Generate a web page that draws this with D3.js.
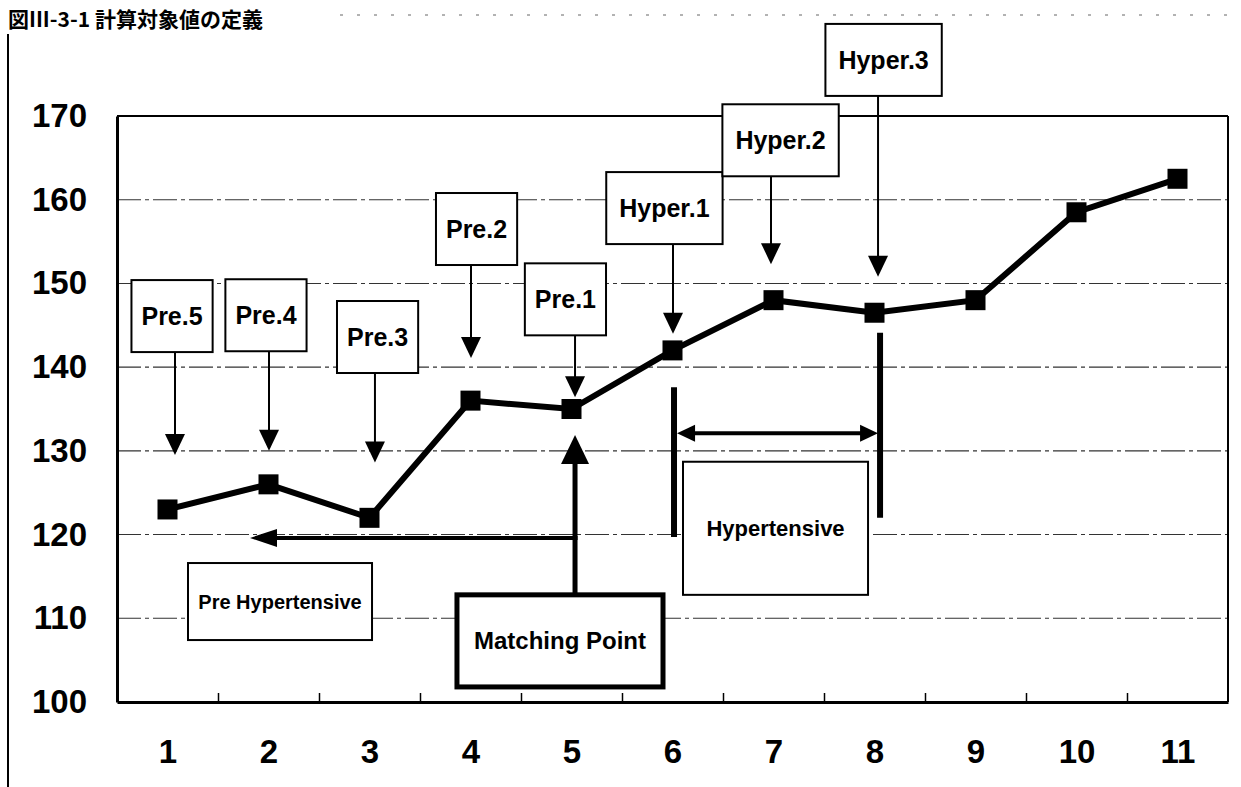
<!DOCTYPE html>
<html>
<head>
<meta charset="utf-8">
<script src="https://cdn.jsdelivr.net/npm/d3@7/dist/d3.min.js"></script>
<style>
  body { margin: 0; background: #fff; }
  svg { display: block; font-family: "Liberation Sans", Arial, sans-serif; }
</style>
</head>
<body>
<script>
// chart data
var categories = [1, 2, 3, 4, 5, 6, 7, 8, 9, 10, 11];
var values = [123, 126, 122, 136, 135, 142, 148, 146.5, 148, 158.5, 162.5];
var yTicks = [100, 110, 120, 130, 140, 150, 160, 170];
var title = "図III-3-1 計算対象値の定義";

// callouts (x in category units, y in value units)
var calloutLabels = ["Pre.5", "Pre.4", "Pre.3", "Pre.2", "Pre.1", "Hyper.1", "Hyper.2", "Hyper.3"];
var calloutArrowX = [1.074, 2.005, 3.054, 4.005, 5.035, 6.005, 6.975, 8.035];
var calloutBoxX = [1.045, 1.975, 3.08, 4.06, 4.94, 5.92, 7.07, 8.09];
var calloutBoxTop = [150.4, 150.5, 147.9, 160.8, 152.4, 163.3, 171.4, 181.0];
var calloutTip = [129.5, 130.0, 128.6, 141.1, 136.4, 144.0, 152.3, 150.8];

// matching point
var matchLabel = "Matching Point";
var matchBoxX = [3.866, 5.906];
var matchBoxY = [112.8, 101.8];
var matchArrowX = 5.035;
var matchArrowTip = 131.9;

// pre hypertensive range
var preLabel = "Pre Hypertensive";
var preArrowY = 119.6;
var preArrowX = [5.035, 1.817];
var preBoxX = [1.203, 3.025];
var preBoxY = [116.6, 107.4];

// hypertensive range
var hyperLabel = "Hypertensive";
var hyperBarX = [6.015, 8.055];
var hyperBarTop = [137.6, 144.1];
var hyperBarBottom = [119.7, 122.0];
var hyperArrowY = 132.1;
var hyperArrowX = [6.045, 8.035];
var hyperBoxX = [6.104, 7.936];
var hyperBoxY = [128.7, 112.8];

var W = 1241, H = 787;
var plot = { left: 117, right: 1228, top: 116, bottom: 702 };

var x = d3.scaleLinear().domain([0.5, 11.5]).range([plot.left, plot.right]);
var y = d3.scaleLinear().domain([100, 170]).range([plot.bottom, plot.top]);

var svg = d3.select("body").append("svg")
  .attr("width", W)
  .attr("height", H);

// title
svg.append("text")
  .attr("x", 8)
  .attr("y", 27)
  .attr("font-family", "'Noto Sans CJK JP', sans-serif")
  .attr("font-weight", "bold")
  .attr("font-size", 21)
  .text(title);

// outer frame
svg.append("line")
  .attr("x1", 8).attr("x2", 8).attr("y1", 34).attr("y2", H)
  .attr("stroke", "#000").attr("stroke-width", 2);
svg.append("line")
  .attr("x1", 340).attr("x2", W).attr("y1", 15).attr("y2", 15)
  .attr("stroke", "#666").attr("stroke-width", 1)
  .attr("stroke-dasharray", "3,14");

// gridlines
svg.append("g")
  .selectAll("line")
  .data(yTicks.filter(function (d) { return d > 100 && d < 170; }))
  .enter().append("line")
  .attr("x1", plot.left).attr("x2", plot.right)
  .attr("y1", function (d) { return y(d); })
  .attr("y2", function (d) { return y(d); })
  .attr("stroke", "#333")
  .attr("stroke-width", 1.1)
  .attr("stroke-dasharray", "24,4,4,4");

// plot frame
svg.append("line")
  .attr("x1", plot.left).attr("x2", plot.right).attr("y1", plot.top).attr("y2", plot.top)
  .attr("stroke", "#000").attr("stroke-width", 2);
svg.append("line")
  .attr("x1", plot.right).attr("x2", plot.right).attr("y1", plot.top).attr("y2", plot.bottom)
  .attr("stroke", "#000").attr("stroke-width", 2);

// y axis
var yAxis = svg.append("g")
  .attr("transform", "translate(" + plot.left + ",0)")
  .call(d3.axisLeft(y).tickValues(yTicks).tickSize(0).tickPadding(30));
yAxis.select(".domain").attr("stroke", "#000").attr("stroke-width", 3);
yAxis.selectAll("text")
  .attr("font-size", 33)
  .attr("font-weight", "bold")
  .attr("font-family", "'Liberation Sans', Arial, sans-serif")
  .attr("fill", "#000");

// x axis: labels centred on categories, ticks between categories
var xAxis = svg.append("g")
  .attr("transform", "translate(0," + plot.bottom + ")")
  .call(d3.axisBottom(x).tickValues(categories).tickSize(0).tickPadding(38));
xAxis.select(".domain").attr("stroke", "#000").attr("stroke-width", 3);
xAxis.selectAll("text")
  .attr("font-size", 33)
  .attr("font-weight", "bold")
  .attr("font-family", "'Liberation Sans', Arial, sans-serif")
  .attr("fill", "#000");

var xTicks = svg.append("g")
  .attr("transform", "translate(0," + plot.bottom + ")")
  .call(d3.axisBottom(x)
    .tickValues(categories.slice(0, -1).map(function (d) { return d + 0.5; }))
    .tickSize(-9)
    .tickFormat(""));
xTicks.select(".domain").remove();
xTicks.selectAll("line").attr("stroke", "#000").attr("stroke-width", 1.5);

// helper: triangle arrow head, tip at (tx, ty), pointing dir
function head(g, tx, ty, dir, len, wid) {
  var p;
  if (dir === "down") p = [[tx, ty], [tx - wid / 2, ty - len], [tx + wid / 2, ty - len]];
  if (dir === "up") p = [[tx, ty], [tx - wid / 2, ty + len], [tx + wid / 2, ty + len]];
  if (dir === "left") p = [[tx, ty], [tx + len, ty - wid / 2], [tx + len, ty + wid / 2]];
  if (dir === "right") p = [[tx, ty], [tx - len, ty - wid / 2], [tx - len, ty + wid / 2]];
  g.append("path").attr("d", "M" + p.join("L") + "Z").attr("fill", "#000");
}

// series line and markers
var line = d3.line()
  .x(function (d, i) { return x(categories[i]); })
  .y(function (d) { return y(d); });

svg.append("path")
  .datum(values)
  .attr("d", line)
  .attr("fill", "none")
  .attr("stroke", "#000")
  .attr("stroke-width", 6)
  .attr("stroke-linejoin", "miter");

svg.selectAll(".dot")
  .data(values)
  .enter().append("rect")
  .attr("class", "dot")
  .attr("x", function (d, i) { return x(categories[i]) - 10; })
  .attr("y", function (d) { return y(d) - 10; })
  .attr("width", 20)
  .attr("height", 20)
  .attr("fill", "#000");

// callouts
var ann = svg.append("g");
calloutLabels.forEach(function (lab, i) {
  var g = ann.append("g");
  var top = y(calloutBoxTop[i]);
  var boxH = 72;
  var t = g.append("text")
    .attr("x", x(calloutBoxX[i]))
    .attr("y", top + boxH / 2)
    .attr("text-anchor", "middle")
    .attr("dominant-baseline", "central")
    .attr("font-size", 25)
    .attr("font-weight", "bold")
    .text(lab);
  var tw = t.node().getComputedTextLength();
  var bw = tw + (lab.length > 5 ? 26 : 20);
  g.insert("rect", "text")
    .attr("x", x(calloutBoxX[i]) - bw / 2)
    .attr("y", top)
    .attr("width", bw)
    .attr("height", boxH)
    .attr("fill", "#fff")
    .attr("stroke", "#000")
    .attr("stroke-width", 2);
  var ax = x(calloutArrowX[i]);
  g.append("line")
    .attr("x1", ax).attr("x2", ax)
    .attr("y1", top + boxH).attr("y2", y(calloutTip[i]) - 18)
    .attr("stroke", "#000").attr("stroke-width", 2);
  head(g, ax, y(calloutTip[i]), "down", 21, 20);
});

// matching point
var mp = svg.append("g");
mp.append("line")
  .attr("x1", x(matchArrowX)).attr("x2", x(matchArrowX))
  .attr("y1", y(matchBoxY[0])).attr("y2", y(matchArrowTip) + 26)
  .attr("stroke", "#000").attr("stroke-width", 5);
head(mp, x(matchArrowX), y(matchArrowTip), "up", 29, 28);
mp.append("line")
  .attr("x1", x(preArrowX[0]) + 2.5).attr("x2", x(preArrowX[1]) + 24)
  .attr("y1", y(preArrowY)).attr("y2", y(preArrowY))
  .attr("stroke", "#000").attr("stroke-width", 4);
head(mp, x(preArrowX[1]), y(preArrowY), "left", 27, 18);
mp.append("rect")
  .attr("x", x(matchBoxX[0])).attr("y", y(matchBoxY[0]))
  .attr("width", x(matchBoxX[1]) - x(matchBoxX[0]))
  .attr("height", y(matchBoxY[1]) - y(matchBoxY[0]))
  .attr("fill", "#fff").attr("stroke", "#000").attr("stroke-width", 5);
mp.append("text")
  .attr("x", (x(matchBoxX[0]) + x(matchBoxX[1])) / 2)
  .attr("y", (y(matchBoxY[0]) + y(matchBoxY[1])) / 2)
  .attr("text-anchor", "middle").attr("dominant-baseline", "central")
  .attr("font-size", 24).attr("font-weight", "bold")
  .text(matchLabel);

// pre hypertensive box
var pre = svg.append("g");
pre.append("rect")
  .attr("x", x(preBoxX[0])).attr("y", y(preBoxY[0]))
  .attr("width", x(preBoxX[1]) - x(preBoxX[0]))
  .attr("height", y(preBoxY[1]) - y(preBoxY[0]))
  .attr("fill", "#fff").attr("stroke", "#000").attr("stroke-width", 2);
pre.append("text")
  .attr("x", (x(preBoxX[0]) + x(preBoxX[1])) / 2)
  .attr("y", (y(preBoxY[0]) + y(preBoxY[1])) / 2)
  .attr("text-anchor", "middle").attr("dominant-baseline", "central")
  .attr("font-size", 20).attr("font-weight", "bold")
  .text(preLabel);

// hypertensive range
var hyp = svg.append("g");
hyperBarX.forEach(function (bx, i) {
  hyp.append("line")
    .attr("x1", x(bx)).attr("x2", x(bx))
    .attr("y1", y(hyperBarTop[i])).attr("y2", y(hyperBarBottom[i]))
    .attr("stroke", "#000").attr("stroke-width", 6);
});
hyp.append("line")
  .attr("x1", x(hyperArrowX[0]) + 16).attr("x2", x(hyperArrowX[1]) - 16)
  .attr("y1", y(hyperArrowY)).attr("y2", y(hyperArrowY))
  .attr("stroke", "#000").attr("stroke-width", 4);
head(hyp, x(hyperArrowX[0]), y(hyperArrowY), "left", 18, 17);
head(hyp, x(hyperArrowX[1]), y(hyperArrowY), "right", 18, 17);
hyp.append("rect")
  .attr("x", x(hyperBoxX[0])).attr("y", y(hyperBoxY[0]))
  .attr("width", x(hyperBoxX[1]) - x(hyperBoxX[0]))
  .attr("height", y(hyperBoxY[1]) - y(hyperBoxY[0]))
  .attr("fill", "#fff").attr("stroke", "#000").attr("stroke-width", 2);
hyp.append("text")
  .attr("x", (x(hyperBoxX[0]) + x(hyperBoxX[1])) / 2)
  .attr("y", (y(hyperBoxY[0]) + y(hyperBoxY[1])) / 2)
  .attr("text-anchor", "middle").attr("dominant-baseline", "central")
  .attr("font-size", 22).attr("font-weight", "bold")
  .text(hyperLabel);
</script>
</body>
</html>
